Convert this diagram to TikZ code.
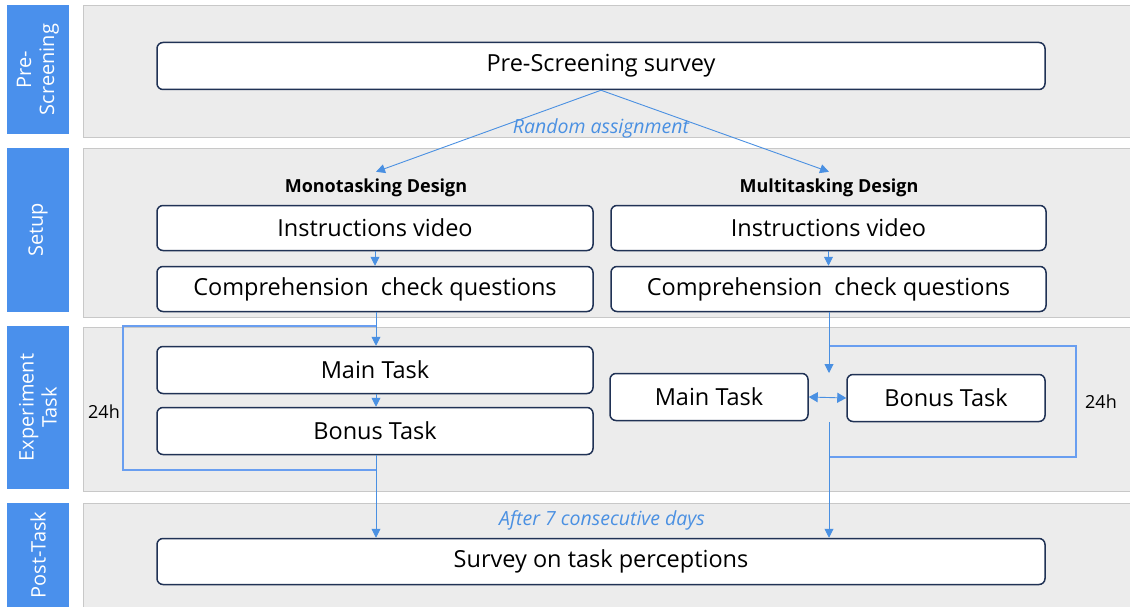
\documentclass[tikz,border=0pt]{standalone}
\usepackage{fontspec}
\setmainfont{Open Sans}
\usetikzlibrary{arrows.meta,positioning}
\definecolor{tagblue}{RGB}{74,144,236}
\definecolor{flowblue}{RGB}{74,144,226}
\definecolor{loopblue}{RGB}{105,158,240}
\definecolor{lanegray}{RGB}{236,236,236}
\definecolor{laneedge}{RGB}{200,200,200}
\definecolor{boxedge}{RGB}{32,50,85}

\begin{document}
\begin{tikzpicture}[
  x=1pt,y=-1pt,
  lane/.style={fill=lanegray,draw=laneedge,line width=0.8pt},
  tag/.style={fill=tagblue,text=white,rotate=90,align=center,inner sep=0pt,
              minimum height=62pt,font=\fontsize{20}{23}\selectfont},
  stepbox/.style={draw=boxedge,fill=white,line width=1.5pt,rounded corners=6pt,
                  inner sep=0pt,minimum height=46pt,font=\fontsize{23.5}{26}\selectfont},
  design/.style={font=\fontsize{18}{20}\selectfont\bfseries,inner sep=2pt},
  note/.style={text=flowblue,font=\fontsize{19.5}{22}\selectfont\itshape},
  hours/.style={font=\fontsize{18}{20}\selectfont},
  arr/.style={-{Triangle[length=9pt,width=9pt]},flowblue,line width=0.9pt},
  loopline/.style={loopblue,line width=1.1pt},
]
  \useasboundingbox[fill=white] (0,0) rectangle (1130,607);

  % Lanes
  \draw[lane] (83,5) rectangle (1134,137);
  \draw[lane] (83,148) rectangle (1134,317);
  \draw[lane] (83,327) rectangle (1134,491);
  \draw[lane] (83,503) rectangle (1134,612);

  % Phase tags
  \node[tag,minimum width=129pt] (tpre) at (38,69.5) {Pre-\\Screening};
  \node[tag,minimum width=164pt] (tsetup) at (38,230) {Setup};
  \node[tag,minimum width=163pt] (texp) at (38,407.5) {Experiment\\Task};
  \node[tag,minimum width=104pt] (tpost) at (38,555) {Post-Task};

  % Pre-screening
  \node[stepbox,minimum width=888pt,minimum height=47pt] (pre) at (601,66) {Pre-Screening survey};
  \node[note] (rand) at (601,128) {Random assignment};

  % Setup, both designs
  \node[design] (lhead) at (376,188) {Monotasking Design};
  \node[design] (rhead) at (829,188) {Multitasking Design};
  \node[stepbox,minimum width=436pt,minimum height=45pt] (lins) at (375,228) {Instructions video};
  \node[stepbox,minimum width=435pt,minimum height=45pt] (rins) at (828.5,228) {Instructions video};
  \node[stepbox,minimum width=436pt,minimum height=45pt] (lcomp) at (375,289) {Comprehension\ \ check questions};
  \node[stepbox,minimum width=435pt,minimum height=45pt] (rcomp) at (828.5,289) {Comprehension\ \ check questions};

  % Experiment task
  \node[stepbox,minimum width=436pt,minimum height=47pt] (lmain) at (375,370) {Main Task};
  \node[stepbox,minimum width=436pt,minimum height=47pt] (lbonus) at (375,431) {Bonus Task};
  \node[stepbox,minimum width=198pt,minimum height=47pt] (rmain) at (709,397) {Main Task};
  \node[stepbox,minimum width=198pt,minimum height=47pt] (rbonus) at (946,398) {Bonus Task};
  \node[hours] (lday) at (104,412) {24h};
  \node[hours] (rday) at (1101,402) {24h};

  % Post-task
  \node[note] (after) at (602,520) {After 7 consecutive days};
  \node[stepbox,minimum width=888pt,minimum height=46pt] (survey) at (601,561.5) {Survey on task perceptions};

  % Loop points
  \coordinate (lin) at (376,326);
  \coordinate (lout) at (376,470);
  \coordinate (lcorner) at (123,326);
  \coordinate (rin) at (829,346);
  \coordinate (rout) at (829,457);
  \coordinate (rcorner) at (1076,346);
  \coordinate (rjoin) at (829,373);
  \coordinate (rleave) at (829,422);

  % 24h loops
  \draw[loopline] (lout) -| (lcorner) -- (lin);
  \draw[loopline] (rout) -| (rcorner) -- (rin);

  % Arrows
  \draw[arr] (pre.south) -- ([yshift=5pt]lhead.north);
  \draw[arr] (pre.south) -- ([yshift=5pt]rhead.north);
  \draw[arr] (lins) -- (lcomp);
  \draw[arr] (rins) -- (rcomp);
  \draw[arr] (lcomp.south -| lin) -- (lmain.north -| lin);
  \draw[arr] (lmain.south -| lin) -- (lbonus.north -| lin);
  \draw[arr] (lbonus.south -| lin) -- (survey.north -| lin);
  \draw[arr] (rcomp.south -| rjoin) -- (rjoin);
  \draw[arr,{Triangle[length=9pt,width=10pt]}-{Triangle[length=9pt,width=10pt]}] (rmain.east) -- (rbonus.west);
  \draw[arr] (rleave) -- (survey.north -| rleave);
\end{tikzpicture}
\end{document}
